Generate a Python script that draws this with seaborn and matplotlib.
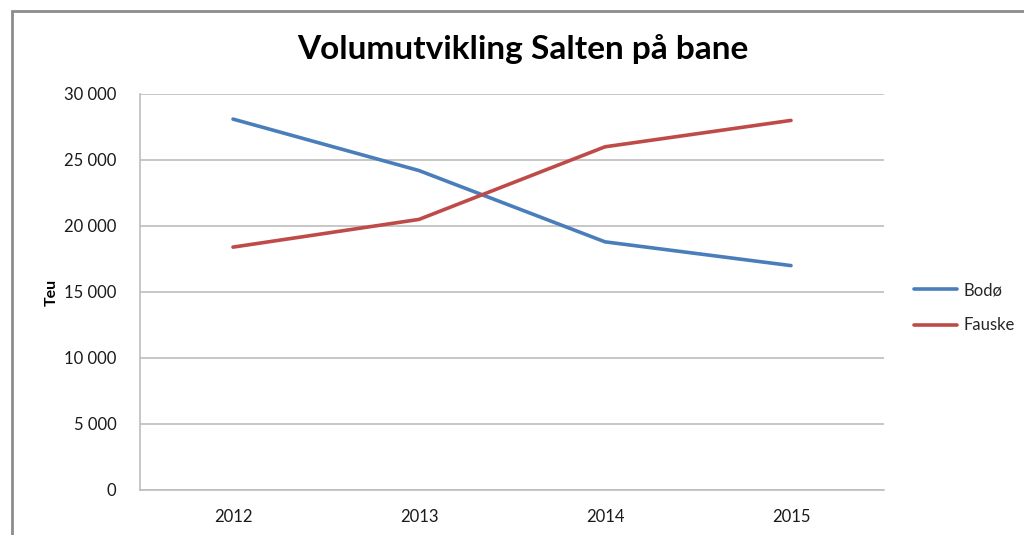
import matplotlib
matplotlib.use('Agg')
import matplotlib.pyplot as plt
import seaborn as sns
import pandas as pd
from matplotlib.patches import Rectangle
from matplotlib.ticker import FuncFormatter

# data
years = ['2012', '2013', '2014', '2015']
bodo = [28100, 24200, 18800, 17000]
fauske = [18400, 20500, 26000, 28000]
series_names = ['Bodø', 'Fauske']
colors = ['#4A7EBB', '#BE4B48']

df = pd.DataFrame({
    'År': years * 2,
    'Teu': bodo + fauske,
    'Sted': [series_names[0]] * len(years) + [series_names[1]] * len(years),
})

sns.set_theme(style='white')
plt.rcParams['font.family'] = ['Lato', 'DejaVu Sans']

fig = plt.figure(figsize=(10.24, 5.35), dpi=100)
ax = fig.add_axes([140 / 1024, 45 / 535, 744 / 1024, 396 / 535])

sns.lineplot(data=df, x='År', y='Teu', hue='Sted', palette=colors,
             linewidth=2.6, ax=ax, sort=False)

ax.set_xlim(-0.5, 3.5)
ax.set_ylim(0, 30000)
ax.set_yticks(range(0, 30001, 5000))
ax.yaxis.set_major_formatter(FuncFormatter(lambda v, p: f'{int(v):,}'.replace(',', ' ')))
ax.grid(axis='y', color='#BEBEBE', linewidth=1.2)
ax.set_axisbelow(True)
for side in ['top', 'right']:
    ax.spines[side].set_visible(False)
for side in ['left', 'bottom']:
    ax.spines[side].set_color('#BEBEBE')
    ax.spines[side].set_linewidth(1.2)
ax.tick_params(axis='both', length=0, labelsize=12, colors='#1a1a1a')
ax.tick_params(axis='y', pad=17)
ax.tick_params(axis='x', pad=14)
ax.set_xlabel('')
ax.set_ylabel('Teu', fontsize=11.5, fontweight='bold', labelpad=4, color='black')

fig.text(0.5104, 0.908, 'Volumutvikling Salten på bane', ha='center', va='center',
         fontsize=24, fontweight='bold', color='black')

leg = ax.legend(loc='center left', bbox_to_anchor=(1.02, 0.46), frameon=False,
                fontsize=12, handlelength=2.6, labelspacing=1.15, handletextpad=0.35)

# chart border (cropped on right and bottom in the original)
fig.patches.append(Rectangle((12 / 1024, -0.1), 1.2, 1.1 - 11 / 535,
                             transform=fig.transFigure, fill=False,
                             edgecolor='#8C8C8C', linewidth=2))

fig.savefig('out.png', dpi=100)
